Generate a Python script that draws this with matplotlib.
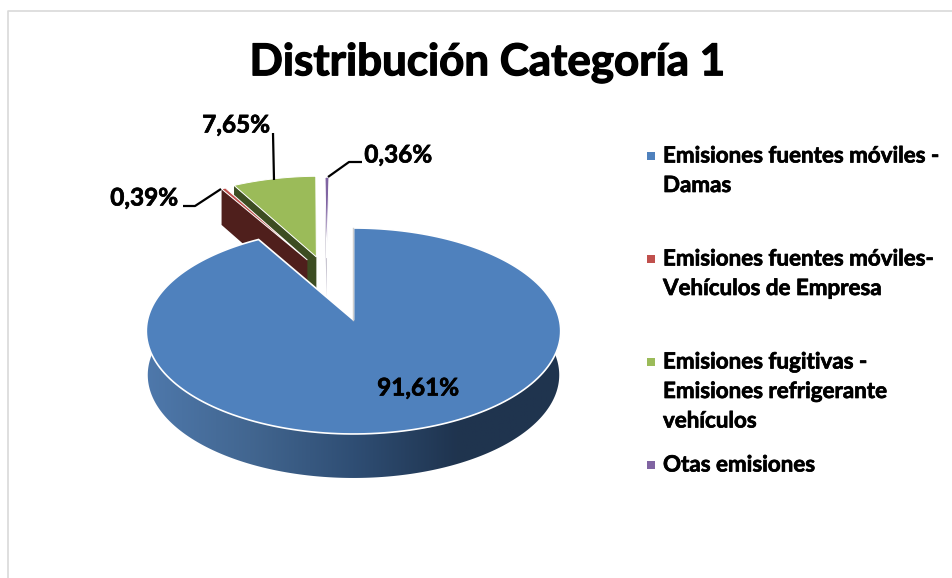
import matplotlib
matplotlib.use('Agg')
import matplotlib.pyplot as plt
import matplotlib.patheffects as pe
import numpy as np
from matplotlib.colors import LinearSegmentedColormap
from matplotlib.patches import Polygon

# chart data
categories = ['Emisiones fuentes móviles -\nDamas',
              'Emisiones fuentes móviles-\nVehículos de Empresa',
              'Emisiones fugitivas -\nEmisiones refrigerante\nvehículos',
              'Otas emisiones']
values = [91.61, 0.39, 7.65, 0.36]
value_labels = ['91,61%', '0,39%', '7,65%', '0,36%']
title = 'Distribución Categoría 1'

colors = ['#4f81bd', '#c0504d', '#9bbb59', '#8064a2']
side_colors = ['#2f4e74', '#4f1f1c', '#3d4d22', '#9a94aa']

plt.rcParams['font.family'] = ['Lato', 'DejaVu Sans']
plt.rcParams['font.weight'] = 'bold'

fig = plt.figure(figsize=(9.53, 5.78), dpi=100)
ax = fig.add_axes([0, 0, 1, 1])
ax.set_xlim(0, 953)
ax.set_ylim(578, 0)
ax.axis('off')

# perspective of the pie plane
cx, cy = 353.5, 320
a, b, p = 101.8, 206, 0.1068
depth = 44
heavy = [pe.withStroke(linewidth=0.5, foreground='black')]
heavier = [pe.withStroke(linewidth=0.9, foreground='black')]


def project(px, py, drop=0, shrink=1.0):
    d = 1 + p*py
    return cx + shrink*b*px/d, cy - a*py/d + drop


def slice_outline(start, end, off=(0, 0)):
    th = np.radians(np.linspace(start, end, 200))
    xs = np.r_[off[0], off[0] + np.sin(th)]
    ys = np.r_[off[1], off[1] + np.cos(th)]
    return project(xs, ys)


total = sum(values)
edges = np.r_[0, np.cumsum(values)]*360/total

# exploded slices, in plane units
offsets = {1: (-0.239, 0.629), 2: (-0.193, 0.663), 3: (-0.14, 0.65)}

# back slices first, the big one covers their lower part
for i in [3, 2, 1]:
    off = offsets[i]
    rim = np.radians(edges[i])
    x0, y0 = project(off[0], off[1])
    x1, y1 = project(off[0] + np.sin(rim), off[1] + np.cos(rim))
    ax.fill([x1, x0, x0, x1], [y1, y0, y0 + depth - 4, y1 + depth - 8],
            color=side_colors[i], lw=0, zorder=2)
    xs, ys = slice_outline(edges[i], edges[i + 1], off)
    ax.fill(xs, ys, facecolor=colors[i], edgecolor='white', lw=0.7, zorder=2)

# side wall of the big slice
th = np.radians(np.linspace(edges[0], edges[1], 400))
top_x, top_y = project(np.sin(th), np.cos(th))
low_x, low_y = project(np.sin(th), np.cos(th), depth, 0.993)
wall = Polygon(np.c_[np.r_[top_x, low_x[::-1]], np.r_[top_y, low_y[::-1]]],
               closed=True, transform=ax.transData, fc='none', ec='none')
ax.add_patch(wall)
cmap = LinearSegmentedColormap.from_list('wall', [(0, '#4e78ab'), (0.25, '#426690'),
                                                  (0.5, '#2f4e74'), (0.75, '#1f344f'),
                                                  (1, '#20344e')])
im = ax.imshow(np.linspace(0, 1, 256)[None, :], cmap=cmap, aspect='auto',
               extent=(147, 560, 480, 320), zorder=3)
im.set_clip_path(wall)
ax.set_xlim(0, 953)
ax.set_ylim(578, 0)

xs, ys = slice_outline(edges[0], edges[1])
ax.fill(xs, ys, facecolor=colors[0], edgecolor='white', lw=1.2, zorder=4)
ax.plot([xs[0], xs[1]], [ys[0], ys[1]], color='#cfcfcf', lw=1, zorder=5)

# leader lines
for lx, ly in [([183, 195, 221], [206, 206, 189]),
               ([273, 274], [133, 180]),
               ([362, 349, 328], [162, 162, 177])]:
    ax.plot(lx, ly, color='black', lw=1.6, zorder=6, solid_capstyle='butt')

# value labels
label_pos = [(418, 388), (144, 198), (236, 125), (398, 155)]
for txt, (tx, ty) in zip(value_labels, label_pos):
    ax.text(tx, ty, txt, ha='center', va='center', fontsize=17.5, color='black',
            zorder=7, path_effects=heavy)

ax.text(487, 62.5, title, ha='center', va='center', fontsize=31.6, color='black',
        path_effects=heavier)

# legend
legend_y = [156, 259, 362, 465]
line_gap = 29.5
for name, col, ly in zip(categories, colors, legend_y):
    ax.fill([647, 655, 655, 647], [ly - 4, ly - 4, ly + 4, ly + 4], color=col, lw=0)
    for j, line in enumerate(name.split('\n')):
        ax.text(663, ly + j*line_gap, line, ha='left', va='center', fontsize=16.1,
                color='black', path_effects=heavy)

# chart frame
ax.plot([8.5, 8.5, 953], [578, 10.5, 10.5], color='#d9d9d9', lw=1.2)

fig.savefig('out.png', dpi=100)
